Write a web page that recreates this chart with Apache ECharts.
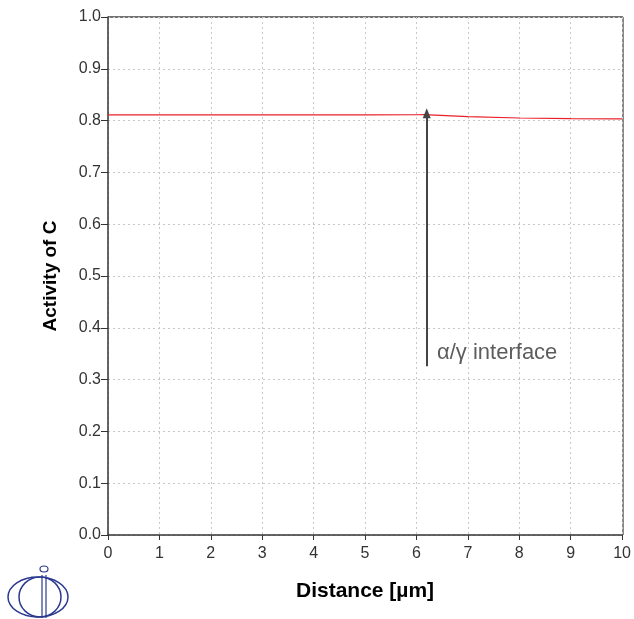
<!DOCTYPE html>
<html><head><meta charset="utf-8">
<script src="https://cdn.jsdelivr.net/npm/echarts@6/dist/echarts.min.js"></script>
<style>html,body{margin:0;padding:0;background:#fff}#c{width:634px;height:619px}</style>
</head><body><div id="c"></div>
<script>
const distance = [0, 1, 2, 3, 4, 5, 6, 6.15, 7, 8, 9, 10];
const activityC = [0.811, 0.811, 0.811, 0.811, 0.811, 0.811, 0.8113, 0.8115, 0.8075, 0.805, 0.804, 0.8035];
const arrowX = 6.2, arrowFrom = 0.326, arrowTo = 0.814;
const labelPos = [6.4, 0.352];
const labelText = 'α/γ interface';
const xTitle = 'Distance [µm]';
const yTitle = 'Activity of C';

const chart = echarts.init(document.getElementById('c'));
const F = '"Liberation Sans", Arial, sans-serif';
const logo = '#2b3990';
chart.setOption({
  animation: false,
  grid: {left: 108, right: 11, top: 17, bottom: 84},
  xAxis: {
    type: 'value', min: 0, max: 10, interval: 1,
    name: xTitle, nameLocation: 'middle', nameGap: 46,
    nameTextStyle: {fontFamily: F, fontSize: 21, fontWeight: 'bold', color: '#000'},
    axisLine: {show: true, lineStyle: {color: '#333', width: 1.5}},
    axisTick: {show: true, length: 5, lineStyle: {color: '#333'}},
    axisLabel: {fontFamily: F, fontSize: 16, color: '#333', margin: 11},
    splitLine: {show: true, lineStyle: {color: '#c8c8c8', type: [2, 3]}}
  },
  yAxis: {
    type: 'value', min: 0, max: 1, interval: 0.1,
    name: yTitle, nameLocation: 'middle', nameGap: 48,
    nameTextStyle: {fontFamily: F, fontSize: 19, fontWeight: 'bold', color: '#000'},
    axisLine: {show: true, lineStyle: {color: '#333', width: 1.5}},
    axisTick: {show: true, length: 7, lineStyle: {color: '#333'}},
    axisLabel: {fontFamily: F, fontSize: 16, color: '#333', margin: 7, formatter: v => v.toFixed(1)},
    splitLine: {show: true, lineStyle: {color: '#c8c8c8', type: [2, 3]}}
  },
  graphic: [
    {type: 'line', shape: {x1: 108, y1: 17, x2: 623, y2: 17}, style: {stroke: '#444', lineWidth: 1.5}},
    {type: 'line', shape: {x1: 623, y1: 17, x2: 623, y2: 535}, style: {stroke: '#888', lineWidth: 2}},
    {type: 'ellipse', shape: {cx: 38, cy: 597, rx: 30, ry: 20}, style: {fill: 'none', stroke: logo, lineWidth: 1.5}},
    {type: 'ellipse', shape: {cx: 40, cy: 597, rx: 21, ry: 20}, style: {fill: 'none', stroke: logo, lineWidth: 1.5}},
    {type: 'line', shape: {x1: 42, y1: 575, x2: 42, y2: 618}, style: {stroke: logo, lineWidth: 1.2}},
    {type: 'line', shape: {x1: 46, y1: 575, x2: 46, y2: 618}, style: {stroke: logo, lineWidth: 1.2}},
    {type: 'ellipse', shape: {cx: 44, cy: 569, rx: 4, ry: 3}, style: {fill: 'none', stroke: logo, lineWidth: 1.2}}
  ],
  series: [
    {
      type: 'line', data: distance.map((d, i) => [d, activityC[i]]),
      symbol: 'none', lineStyle: {color: '#e8202a', width: 1.2}
    },
    {
      type: 'line', data: [], symbol: 'none',
      markLine: {
        silent: true, symbol: ['none', 'triangle'], symbolSize: [8, 10],
        lineStyle: {color: '#444', width: 2, type: 'solid'},
        label: {show: false},
        data: [[{coord: [arrowX, arrowFrom]}, {coord: [arrowX, arrowTo]}]]
      }
    },
    {
      type: 'scatter', data: [labelPos], symbolSize: 0,
      label: {show: true, position: 'right', distance: 0, formatter: labelText,
        fontFamily: F, fontSize: 22, color: '#333'}
    }
  ]
});
</script></body></html>
